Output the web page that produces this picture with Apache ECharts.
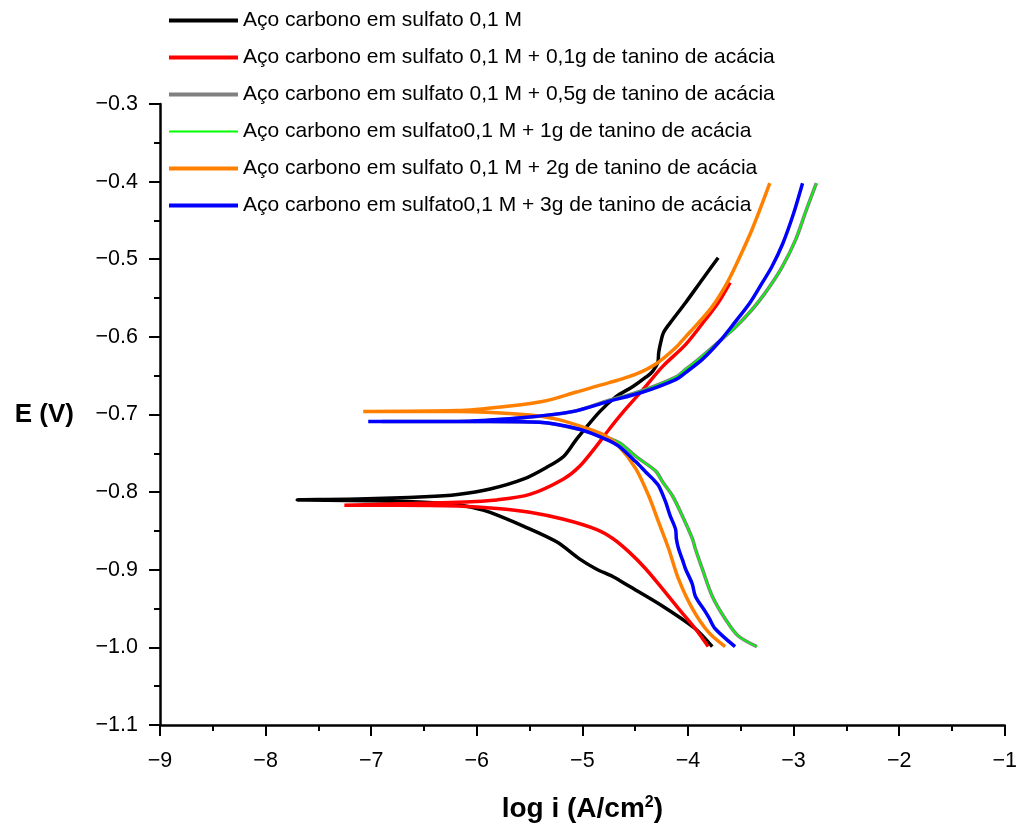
<!DOCTYPE html>
<html>
<head>
<meta charset="utf-8">
<script src="https://cdn.jsdelivr.net/npm/echarts@6/dist/echarts.min.js"></script>
<style>
  html, body { margin: 0; padding: 0; background: #fff; }
  #chart { width: 1020px; height: 828px; }
</style>
</head>
<body>
<div id="chart"></div>
<script>
// Tafel polarisation curves: potential E (V) versus log of current density.
// Each curve runs from the cathodic end (-1.0 V) through the corrosion potential
// and up the anodic branch, as [log i, E] pairs.

const seriesNames = [
  'Aço carbono em sulfato 0,1 M',
  'Aço carbono em sulfato 0,1 M + 0,1g de tanino de acácia',
  'Aço carbono em sulfato 0,1 M + 0,5g de tanino de acácia',
  'Aço carbono em sulfato0,1 M + 1g de tanino de acácia',
  'Aço carbono em sulfato 0,1 M + 2g de tanino de acácia',
  'Aço carbono em sulfato0,1 M + 3g de tanino de acácia'
];

const seriesColors = ['#000000', '#ff0000', '#808080', '#00ff00', '#ff8000', '#0000ff'];

const xTicks = [-9, -8, -7, -6, -5, -4, -3, -2, -1];
const yTicks = [-1.1, -1.0, -0.9, -0.8, -0.7, -0.6, -0.5, -0.4, -0.3];

const blankCurve = [
  [-3.77, -0.999], [-3.93, -0.976], [-4.239, -0.947], [-4.559, -0.921],
  [-4.709, -0.909], [-4.869, -0.899], [-5.028, -0.886], [-5.244, -0.864],
  [-5.554, -0.844], [-5.873, -0.826], [-6.0, -0.821], [-6.2, -0.816],
  [-6.5, -0.813], [-7.0, -0.811], [-7.70, -0.810],
  [-7.122, -0.809], [-6.493, -0.806], [-6.183, -0.803], [-5.873, -0.796],
  [-5.554, -0.783], [-5.338, -0.768], [-5.178, -0.754], [-5.056, -0.732],
  [-4.840, -0.697], [-4.681, -0.677], [-4.521, -0.664], [-4.399, -0.652],
  [-4.333, -0.644], [-4.286, -0.633], [-4.277, -0.620], [-4.258, -0.607],
  [-4.230, -0.594], [-4.146, -0.578], [-4.023, -0.556], [-3.864, -0.526],
  [-3.714, -0.498]
];

const tanino01g = [
  [-3.808, -0.999], [-3.930, -0.976], [-4.089, -0.950], [-4.239, -0.925],
  [-4.399, -0.899], [-4.559, -0.877], [-4.709, -0.860], [-4.869, -0.848],
  [-5.178, -0.835], [-5.498, -0.826], [-5.808, -0.821], [-6.183, -0.818],
  [-6.746, -0.817], [-7.254, -0.817],
  [-6.746, -0.815], [-6.183, -0.813], [-5.808, -0.810], [-5.498, -0.803],
  [-5.178, -0.783], [-5.028, -0.767], [-4.869, -0.741], [-4.746, -0.719],
  [-4.615, -0.697], [-4.427, -0.668], [-4.239, -0.638], [-4.023, -0.610],
  [-3.836, -0.578], [-3.714, -0.556], [-3.601, -0.530]
];

const tanino05g = [
  [-3.347, -0.999], [-3.526, -0.985], [-3.648, -0.963], [-3.770, -0.934],
  [-3.864, -0.899], [-3.930, -0.873], [-3.958, -0.860], [-4.052, -0.831],
  [-4.146, -0.805], [-4.239, -0.787], [-4.305, -0.773], [-4.493, -0.754],
  [-4.653, -0.736], [-4.869, -0.725], [-5.028, -0.719], [-5.404, -0.710],
  [-5.873, -0.709], [-6.5, -0.709], [-6.9, -0.709],
  [-6.5, -0.709], [-6.183, -0.709], [-5.554, -0.704], [-5.085, -0.696],
  [-4.775, -0.683], [-4.427, -0.669], [-4.117, -0.652], [-4.023, -0.642],
  [-3.901, -0.629], [-3.714, -0.607], [-3.554, -0.588], [-3.394, -0.565],
  [-3.272, -0.544], [-3.113, -0.511], [-2.981, -0.475], [-2.878, -0.436],
  [-2.784, -0.402]
];

const tanino1g = [
  [-3.347, -0.999], [-3.526, -0.985], [-3.648, -0.963], [-3.770, -0.934],
  [-3.864, -0.899], [-3.930, -0.873], [-3.958, -0.860], [-4.052, -0.831],
  [-4.146, -0.805], [-4.239, -0.787], [-4.305, -0.773], [-4.493, -0.754],
  [-4.653, -0.736], [-4.869, -0.725], [-5.028, -0.719], [-5.404, -0.710],
  [-5.873, -0.709], [-6.5, -0.709], [-6.9, -0.709],
  [-6.5, -0.709], [-6.183, -0.709], [-5.554, -0.704], [-5.085, -0.696],
  [-4.775, -0.683], [-4.427, -0.669], [-4.117, -0.652], [-4.023, -0.642],
  [-3.901, -0.629], [-3.714, -0.607], [-3.554, -0.588], [-3.394, -0.565],
  [-3.272, -0.544], [-3.113, -0.511], [-2.981, -0.475], [-2.878, -0.436],
  [-2.784, -0.402]
];

const tanino2g = [
  [-3.648, -0.999], [-3.808, -0.980], [-3.958, -0.950], [-4.089, -0.912],
  [-4.183, -0.873], [-4.277, -0.839], [-4.371, -0.805], [-4.493, -0.770],
  [-4.653, -0.741], [-4.775, -0.728], [-4.934, -0.719], [-5.244, -0.706],
  [-5.554, -0.700], [-6.183, -0.696], [-7.075, -0.696],
  [-6.183, -0.695], [-5.685, -0.689], [-5.366, -0.683], [-5.056, -0.671],
  [-4.746, -0.659], [-4.493, -0.648], [-4.305, -0.635], [-4.117, -0.614],
  [-4.023, -0.600], [-3.901, -0.582], [-3.770, -0.561], [-3.648, -0.535],
  [-3.554, -0.510], [-3.394, -0.462], [-3.225, -0.402]
];

const tanino3g = [
  [-3.554, -0.999], [-3.742, -0.976], [-3.80, -0.962], [-3.836, -0.954],
  [-3.930, -0.934], [-3.96, -0.918], [-4.023, -0.899], [-4.05, -0.888],
  [-4.089, -0.873], [-4.11, -0.860], [-4.117, -0.848], [-4.17, -0.830],
  [-4.211, -0.813], [-4.277, -0.792], [-4.333, -0.783], [-4.40, -0.774],
  [-4.493, -0.761], [-4.653, -0.741], [-4.775, -0.732], [-5.028, -0.719],
  [-5.404, -0.710], [-5.873, -0.709], [-7.028, -0.709],
  [-6.183, -0.709], [-5.554, -0.704], [-5.085, -0.696], [-4.775, -0.684],
  [-4.427, -0.671], [-4.117, -0.655], [-4.023, -0.646], [-3.864, -0.629],
  [-3.695, -0.605], [-3.554, -0.581], [-3.413, -0.556], [-3.300, -0.531],
  [-3.207, -0.510], [-3.103, -0.480], [-3.000, -0.441], [-2.915, -0.402]
];

const curves = [blankCurve, tanino01g, tanino05g, tanino1g, tanino2g, tanino3g];
const lineWidths = [3.5, 3.5, 3.6, 1.6, 3.5, 3.5];
const legendLineWidths = [4, 4, 4, 1.8, 4, 4];

const FONT = '"Liberation Sans", Arial, sans-serif';
const minus = s => String(s).replace('-', '\u2212');

const chart = echarts.init(document.getElementById('chart'), null, { renderer: 'canvas' });

chart.setOption({
  backgroundColor: '#ffffff',
  animation: false,
  grid: { left: 160, right: 8, top: 104, bottom: 101 },
  legend: {
    orient: 'vertical',
    left: 162,
    top: 5,
    itemWidth: 69,
    itemHeight: 14,
    itemGap: 16,
    data: seriesNames.map((name, i) => ({
      name: name,
      lineStyle: { color: seriesColors[i], width: legendLineWidths[i] }
    })),
    itemStyle: { opacity: 0 },
    textStyle: { fontSize: 21, fontFamily: FONT, color: '#000', lineHeight: 21 }
  },
  xAxis: {
    type: 'value',
    min: xTicks[0],
    max: xTicks[xTicks.length - 1],
    interval: 1,
    name: '{t|log i (A/cm}{s|2}{t|)}',
    nameLocation: 'middle',
    nameGap: 70,
    nameTextStyle: {
      rich: {
        t: { fontSize: 28, fontWeight: 'bold', fontFamily: FONT, color: '#000' },
        s: { fontSize: 16, fontWeight: 'bold', fontFamily: FONT, color: '#000', verticalAlign: 'top' }
      }
    },
    axisLine: { show: true, onZero: false, lineStyle: { color: '#000', width: 2.5 } },
    axisTick: { show: true, inside: false, length: 11, lineStyle: { color: '#000', width: 2 } },
    minorTick: { show: true, splitNumber: 2, length: 6, lineStyle: { color: '#000', width: 2 } },
    splitLine: { show: false },
    axisLabel: {
      fontSize: 21.5, fontFamily: FONT, color: '#000', margin: 25,
      formatter: v => minus(Math.round(v))
    }
  },
  yAxis: {
    type: 'value',
    min: yTicks[0],
    max: yTicks[yTicks.length - 1],
    interval: 0.1,
    name: 'E (V)',
    nameLocation: 'middle',
    nameRotate: 0,
    nameGap: 86,
    nameTextStyle: {
      fontSize: 26, fontWeight: 'bold', fontFamily: FONT, color: '#000',
      padding: [14, 0, 0, 0]
    },
    axisLine: { show: true, onZero: false, lineStyle: { color: '#000', width: 2.5 } },
    axisTick: { show: true, inside: false, length: 11, lineStyle: { color: '#000', width: 2 } },
    minorTick: { show: true, splitNumber: 2, length: 6, lineStyle: { color: '#000', width: 2 } },
    splitLine: { show: false },
    axisLabel: {
      fontSize: 21.5, fontFamily: FONT, color: '#000', margin: 22,
      formatter: v => minus(v.toFixed(1))
    }
  },
  series: curves.map((data, i) => ({
    name: seriesNames[i],
    type: 'line',
    data: data,
    showSymbol: false,
    symbol: 'none',
    smooth: 0.3,
    color: seriesColors[i],
    lineStyle: { color: seriesColors[i], width: lineWidths[i] },
    z: 2 + i
  }))
});
</script>
</body>
</html>
